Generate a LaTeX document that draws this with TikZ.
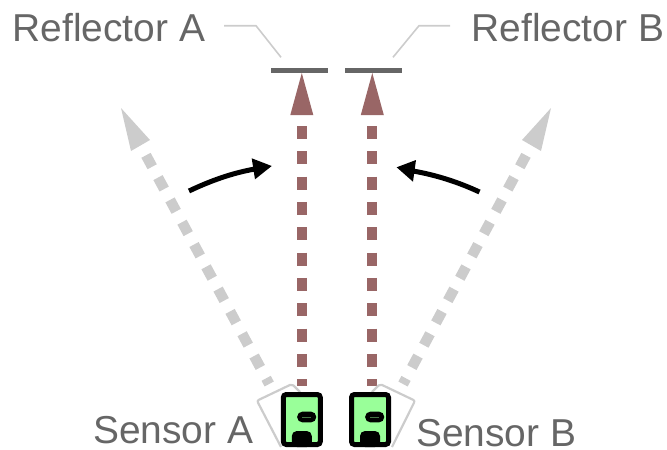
\documentclass[tikz,border=0pt]{standalone}
\usepackage{fontspec}
\setmainfont{Liberation Sans}
\definecolor{lbl}{HTML}{666666}
\definecolor{pale}{HTML}{CCCCCC}
\definecolor{beam}{HTML}{996666}
\definecolor{bodygreen}{HTML}{99FF99}
\tikzset{
  lab/.style={font=\fontsize{38.9pt}{40pt}\selectfont, text=lbl, inner sep=0pt, anchor=base west},
  leader/.style={draw=pale, line width=1.6pt, line join=miter},
  mirror/.style={draw=pale, line width=2.2pt, line join=round, rounded corners=2pt},
  bar/.style={draw=lbl, line width=4.7pt},
  beamline/.style={draw=beam, line width=10pt, dash pattern=on 13pt off 12.33pt},
  paleline/.style={draw=pale, line width=10.5pt, dash pattern=on 13pt off 12.33pt},
  beamhead/.style={fill=beam},
  palehead/.style={fill=pale},
  turn/.style={draw=black, line width=5pt},
  casing/.style={draw=black, fill=bodygreen, line width=5pt, rounded corners=3pt},
}
\newcommand{\sensorbody}[2]{% #1 centre x, #2 pill x
  \draw[casing] (#1-18.5,394.5) rectangle (#1+18.5,444.5);
  \fill[black, rounded corners=5pt] (#2-9.5,411.7) rectangle (#2+9.5,422.3);
  \draw[bodygreen!45!black, line width=0.8pt] (#2-4.5,417) -- (#2+4.5,417);
  \fill[black, rounded corners=5pt] (#1-10,447) -- (#1-10,431) -- (#1+10,431) -- (#1+10,447) -- cycle;
}
\begin{document}
\begin{tikzpicture}[x=1pt,y=-1pt]
\useasboundingbox (0,0) rectangle (667,450);
% labels
\node[lab] (refA) at (12.5,41.5) {Reflector A};
\node[lab] (refB) at (471.5,41.5) {Reflector B};
\node[lab] (senA) at (93,443.5) {Sensor A};
\node[lab] (senB) at (416,446) {Sensor B};
% leaders
\coordinate (la0) at (224,25.7);
\coordinate (la1) at (256,25.7);
\coordinate (la2) at (281,57.3);
\coordinate (lb0) at (450,25.7);
\coordinate (lb1) at (419,25.7);
\coordinate (lb2) at (393,57.3);
\draw[leader] (la0) -- (la1) -- (la2);
\draw[leader] (lb0) -- (lb1) -- (lb2);
% reflectors
\coordinate (ba0) at (271,70.6);
\coordinate (ba1) at (328,70.6);
\coordinate (bb0) at (345,70.6);
\coordinate (bb1) at (402,70.6);
\draw[bar] (ba0) -- (ba1);
\draw[bar] (bb0) -- (bb1);
% pale beams
\coordinate (pa0) at (269.2,384);
\coordinate (pa1) at (146,155.3);
\coordinate (pb0) at (403,384);
\coordinate (pb1) at (526,155.3);
\draw[paleline] (pa1) -- (pa0);
\draw[paleline] (pb1) -- (pb0);
\fill[palehead] (121,108) -- (150,140) -- (131,151) -- cycle;
\fill[palehead] (551,108) -- (522,140) -- (541,151) -- cycle;
% red beams
\coordinate (ra0) at (301.8,386);
\coordinate (ra1) at (301.8,126);
\coordinate (rb0) at (372.3,386);
\coordinate (rb1) at (372.3,126);
\draw[beamline] (ra1) -- (ra0);
\draw[beamline] (rb1) -- (rb0);
\fill[beamhead] (301.8,73) -- (313.3,115) -- (290.3,115) -- cycle;
\fill[beamhead] (372.3,73) -- (383.8,115) -- (360.8,115) -- cycle;
% turn arrows
\coordinate (ta0) at (189,191);
\coordinate (ta1) at (255,169);
\coordinate (tb0) at (479.5,192);
\coordinate (tb1) at (413,171);
\draw[turn] (ta0) .. controls (210,181) and (232,173) .. (ta1);
\fill[black] (271.7,166) -- (251.7,158.3) -- (255,179.3) -- cycle;
\draw[turn] (tb0) .. controls (458,182) and (436,175) .. (tb1);
\fill[black] (396.7,167.3) -- (416,160) -- (413,181.7) -- cycle;
% tilted mirrors behind sensors
\draw[mirror] (281,447) -- (257,400.7) -- (292,384) -- (300,392);
\draw[mirror] (392,447) -- (415,400.7) -- (380,384) -- (372,392);
% sensors
\sensorbody{301.8}{306.7}
\sensorbody{370}{374.7}
\end{tikzpicture}
\end{document}
